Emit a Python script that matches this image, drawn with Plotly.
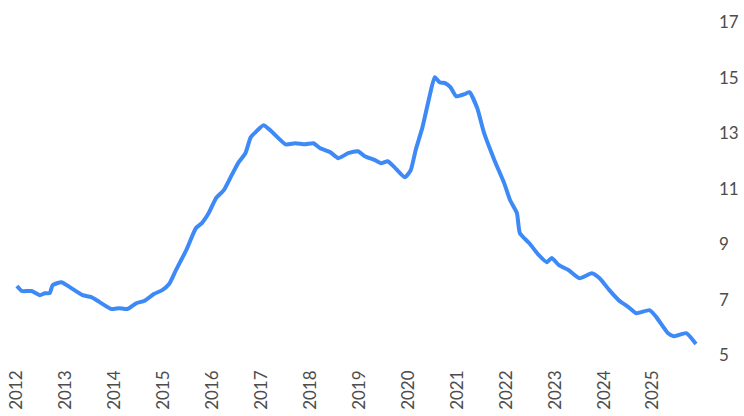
import plotly.graph_objects as go

# decimal year positions
years = [2012.00, 2012.10, 2012.30, 2012.47, 2012.57, 2012.67, 2012.73, 2012.91,
         2013.08, 2013.34, 2013.52, 2013.69, 2013.93, 2014.09, 2014.26, 2014.44,
         2014.60, 2014.80, 2014.97, 2015.11, 2015.25, 2015.46, 2015.66, 2015.78,
         2015.92, 2016.07, 2016.23, 2016.39, 2016.53, 2016.67, 2016.78, 2016.88,
         2017.04, 2017.20, 2017.49, 2017.69, 2017.89, 2018.06, 2018.20, 2018.40,
         2018.57, 2018.77, 2018.97, 2019.11, 2019.32, 2019.44, 2019.58, 2019.72,
         2019.93, 2020.05, 2020.15, 2020.29, 2020.43, 2020.54, 2020.64, 2020.76,
         2020.86, 2020.98, 2021.15, 2021.25, 2021.41, 2021.55, 2021.76, 2021.96,
         2022.08, 2022.22, 2022.28, 2022.47, 2022.67, 2022.83, 2022.93, 2023.08,
         2023.28, 2023.50, 2023.75, 2023.91, 2024.11, 2024.30, 2024.50, 2024.66,
         2024.93, 2025.07, 2025.31, 2025.43, 2025.68, 2025.88]

values = [7.49, 7.31, 7.31, 7.16, 7.23, 7.23, 7.52, 7.63,
          7.45, 7.16, 7.09, 6.91, 6.66, 6.69, 6.66, 6.87,
          6.95, 7.20, 7.34, 7.56, 8.06, 8.78, 9.58, 9.76,
          10.12, 10.66, 10.95, 11.49, 11.95, 12.28, 12.86, 13.04,
          13.29, 13.07, 12.60, 12.64, 12.60, 12.64, 12.46, 12.32,
          12.10, 12.28, 12.35, 12.17, 12.03, 11.92, 11.99, 11.77,
          11.41, 11.67, 12.39, 13.22, 14.30, 15.02, 14.84, 14.80,
          14.66, 14.33, 14.41, 14.48, 13.90, 13.00, 12.03, 11.20,
          10.59, 10.12, 9.40, 9.04, 8.60, 8.35, 8.50, 8.24,
          8.06, 7.77, 7.95, 7.77, 7.34, 6.98, 6.73, 6.51,
          6.62, 6.37, 5.79, 5.68, 5.79, 5.40]

tick_years = list(range(2012, 2026))
tick_labels = [str(y) for y in tick_years]
y_ticks = [5, 7, 9, 11, 13, 15, 17]

fig = go.Figure()
fig.add_trace(go.Scatter(
    x=years, y=values, mode="lines",
    line=dict(color="#3D8AF7", width=4, shape="spline", smoothing=0.5),
    hoverinfo="skip", showlegend=False,
))

font = dict(family="Lato, 'Open Sans', sans-serif", size=17, color="#4d4d4d")

fig.update_layout(
    width=744, height=416,
    margin=dict(l=5, r=32, t=14, b=54),
    paper_bgcolor="white", plot_bgcolor="white",
    font=font,
    xaxis=dict(
        range=[2011.756, 2026.126],
        tickmode="array", tickvals=tick_years, ticktext=tick_labels,
        tickangle=-90, showgrid=False, zeroline=False, showline=False,
        ticks="", ticklabelstandoff=4, tickfont=font,
    ),
    yaxis=dict(
        range=[4.75, 17.3], side="right",
        tickmode="array", tickvals=y_ticks,
        showgrid=False, zeroline=False, showline=False,
        ticks="", ticklabelstandoff=10, tickfont=font,
    ),
)

fig.write_html("out.html",
               config={"displayModeBar": False, "staticPlot": True},
               post_script="document.body.style.margin='0';document.body.style.overflow='hidden';")
